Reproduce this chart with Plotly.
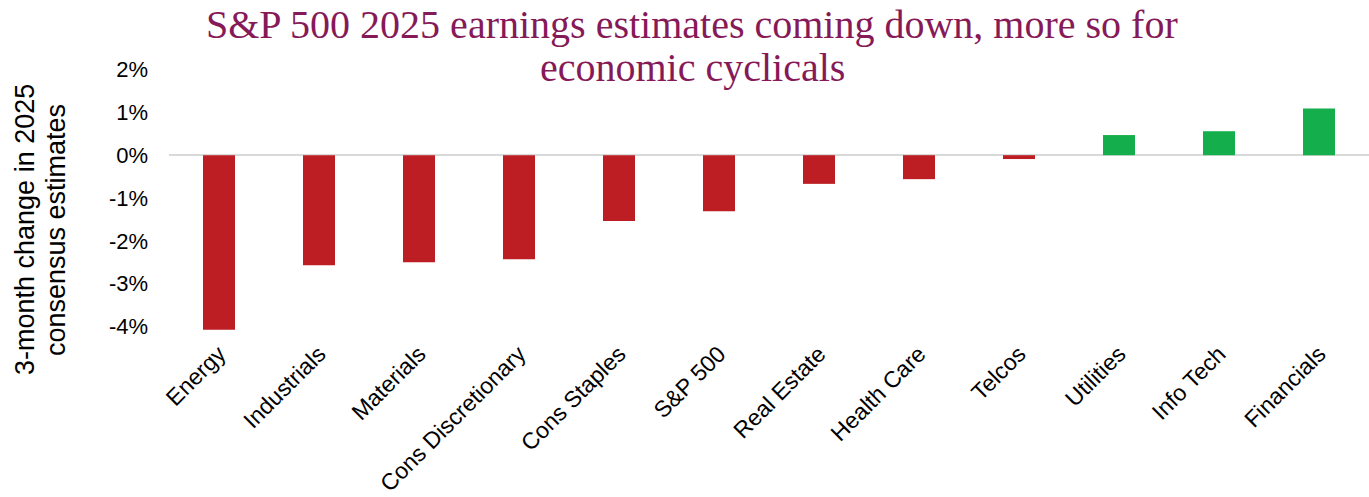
import plotly.graph_objects as go

categories = ["Energy", "Industrials", "Materials", "Cons Discretionary", "Cons Staples",
              "S&P 500", "Real Estate", "Health Care", "Telcos", "Utilities", "Info Tech", "Financials"]
values = [-4.08, -2.57, -2.50, -2.43, -1.54, -1.31, -0.67, -0.56, -0.09, 0.47, 0.56, 1.09]
tick_vals = [2, 1, 0, -1, -2, -3, -4]
tick_text = ["2%", "1%", "0%", "-1%", "-2%", "-3%", "-4%"]
title_lines = ["S&P 500 2025 earnings estimates coming down, more so for", "economic cyclicals"]
ytitle_lines = ["3-month change in 2025", "consensus estimates"]

RED = "#BD1E24"
GREEN = "#15AE4C"
colors = [RED if v < 0 else GREEN for v in values]

W, H = 1369, 497
L, R, T, B = 169, 0, 61, 162
PW, PH = W - L - R, H - T - B


def px_x(p):
    return (p - L) / PW


def px_y(p):
    return (H - B - p) / PH


fig = go.Figure(go.Bar(x=categories, y=values, marker=dict(color=colors, line=dict(width=0)),
                       width=0.32))

fig.update_layout(
    width=W, height=H,
    margin=dict(l=L, r=R, t=T, b=B),
    plot_bgcolor="white", paper_bgcolor="white",
    showlegend=False,
)
fig.update_xaxes(showgrid=False, showline=False, ticks="", tickangle=-45, automargin=False,
                 tickfont=dict(family="Liberation Sans", size=23, color="#000000"))
fig.update_yaxes(range=[-4.2, 2.2], tickvals=tick_vals, ticktext=tick_text, automargin=False,
                 showgrid=False, showline=False, ticks="",
                 zeroline=True, zerolinecolor="#D9D9D9", zerolinewidth=2,
                 ticklabelstandoff=20,
                 tickfont=dict(family="Liberation Sans", size=22, color="#000000"))

for txt, py in zip(title_lines, [25, 67]):
    fig.add_annotation(text=txt, xref="paper", yref="paper", x=px_x(692), y=px_y(py),
                       xanchor="center", yanchor="middle", showarrow=False,
                       font=dict(family="Liberation Serif", size=40, color="#861A58"))

for txt, pxx in zip(ytitle_lines, [25, 56]):
    fig.add_annotation(text=txt, textangle=-90, xref="paper", yref="paper",
                       x=px_x(pxx), y=px_y(230), xanchor="center", yanchor="middle",
                       showarrow=False,
                       font=dict(family="Liberation Sans", size=27, color="#000000"))

fig.write_html("out.html")
